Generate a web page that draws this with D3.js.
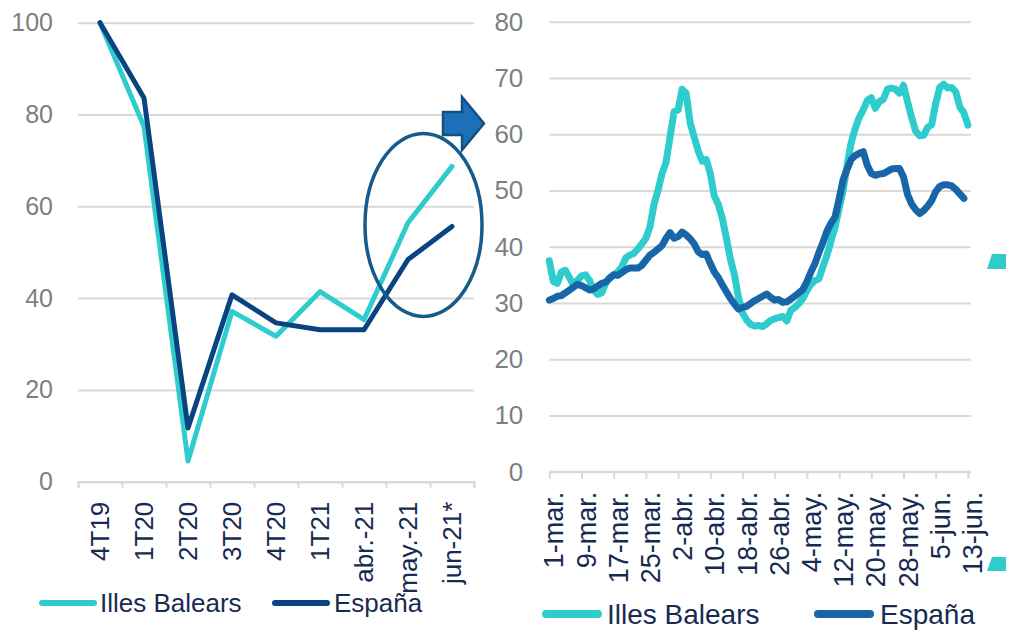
<!DOCTYPE html>
<html>
<head>
<meta charset="utf-8">
<script src="https://cdn.jsdelivr.net/npm/d3@7"></script>
<style>
  body { margin: 0; background: #fff; }
  svg { display: block; font-family: "Liberation Sans", Arial, sans-serif; }
</style>
</head>
<body>
<svg id="chart" width="1009" height="630"></svg>
<script>
// quarterly index, 4T19 = 100
const quarters = ['4T19', '1T20', '2T20', '3T20', '4T20', '1T21', 'abr.-21', 'may.-21', 'jun-21*'];
const balearsQuarterly = [100, 77.4, 4.5, 37.1, 31.7, 41.4, 35.3, 56.4, 68.7];
const espanaQuarterly = [100, 83.6, 11.7, 40.7, 34.6, 33.1, 33.1, 48.4, 55.6];
const quarterlyTicks = [0, 20, 40, 60, 80, 100];

// daily values starting 1-mar-2021
const dailyStart = new Date(2021, 2, 1);
const balearsDaily = [
  37.5, 33.8, 33.5, 35.5, 35.8, 34.5, 33.2, 34.0, 34.8, 35.0,
  34.0, 32.3, 31.5, 31.8, 33.5, 34.5, 35.0, 35.5, 36.4, 38.0,
  38.5, 38.8, 39.6, 40.5, 41.5, 43.5, 47.5, 50.0, 53.0, 55.0,
  59.5, 64.0, 64.3, 68.0, 67.3, 62.0, 59.5, 57.0, 55.2, 55.5,
  53.0, 49.0, 47.5, 45.0, 41.5, 37.8, 35.0, 31.0, 28.2, 27.0,
  26.2, 25.9, 26.0, 25.8, 26.3, 26.9, 27.2, 27.4, 27.6, 26.8,
  28.7, 29.2, 29.9, 30.8, 32.2, 33.3, 34.0, 34.3, 36.5, 38.5,
  41.0, 43.5, 46.8, 50.0, 54.5, 58.5, 61.0, 63.0, 64.3, 66.0,
  66.5, 64.6, 65.8, 66.2, 68.0, 68.2, 68.0, 67.3, 68.7, 65.8,
  63.0, 60.6, 59.7, 59.8, 61.2, 61.7, 65.5, 68.3, 68.9, 68.2,
  68.3, 67.5, 64.8, 63.8, 61.6
];
const espanaDaily = [
  30.5, 30.8, 31.2, 31.3, 31.8, 32.3, 32.8, 33.3, 33.1, 32.7,
  32.3, 32.5, 33.0, 33.5, 33.7, 34.4, 35.0, 34.9, 35.4, 35.9,
  36.2, 36.2, 36.2, 36.7, 37.6, 38.5, 39.0, 39.6, 40.2, 41.5,
  42.5, 41.5, 41.8, 42.6, 42.1, 41.4, 40.5, 39.1, 38.6, 38.7,
  37.0, 35.5, 34.5, 33.2, 32.0, 30.8, 29.8, 28.9, 29.2, 29.4,
  29.9, 30.4, 30.8, 31.2, 31.6, 31.0, 30.5, 30.6, 30.1, 30.2,
  30.7, 31.2, 31.8, 32.4, 33.8, 35.5, 37.0, 39.0, 40.8, 42.8,
  44.2, 45.3, 48.5, 51.9, 53.8, 55.5, 56.2, 56.6, 56.9, 54.5,
  53.0, 52.7, 52.9, 53.0, 53.4, 53.8, 53.9, 53.9, 52.4, 49.3,
  47.6, 46.6, 45.9, 46.4, 47.2, 48.2, 49.8, 50.7, 51.0, 51.0,
  50.8, 50.2, 49.4, 48.6
];
const dailyTicks = [0, 10, 20, 30, 40, 50, 60, 70, 80];
const dailyTickLabels = ['1-mar.', '9-mar.', '17-mar.', '25-mar.', '2-abr.', '10-abr.', '18-abr.',
  '26-abr.', '4-may.', '12-may.', '20-may.', '28-may.', '5-jun.', '13-jun.'];
const seriesNames = ['Illes Balears', 'España'];

const TEAL = '#2ecccc';
const NAVY = '#0a4480';
const BLUE = '#1866a8';
const TEXT = '#172a52';
const GREY = '#7f7f7f';
const GRID = '#d9d9d9';

const svg = d3.select('#chart');

// shared helper: horizontal gridlines + y labels
function drawYGrid(chart, yScale, ticks, width, padding) {
  const g = chart.append('g')
      .attr('class', 'axis y-axis')
      .call(d3.axisLeft(yScale).tickValues(ticks).tickSize(-width).tickPadding(padding));
  g.attr('font-family', null);
  g.select('.domain').remove();
  g.selectAll('line').attr('stroke', GRID).attr('stroke-width', 2);
  g.selectAll('text').attr('fill', GREY).attr('font-size', 25);
  return g;
}

class QuarterChart {
  constructor(_config) {
    this.config = {
      margin: _config.margin,
      width: _config.width,
      height: _config.height
    };
    this.initVis();
  }

  initVis() {
    let vis = this;
    const w = vis.config.width, h = vis.config.height;

    vis.chart = svg.append('g')
        .attr('transform', `translate(${vis.config.margin.left},${vis.config.margin.top})`);

    vis.xScale = d3.scaleBand().domain(quarters).range([0, w]);
    // edges of the bands, for the tick marks
    vis.xEdges = d3.scaleLinear().domain([0, quarters.length]).range([0, w]);
    vis.yScale = d3.scaleLinear().domain([0, 100]).range([h, 0]);

    drawYGrid(vis.chart, vis.yScale, quarterlyTicks, w, 25);

    // axis line with tick marks between categories
    const tickG = vis.chart.append('g')
        .attr('transform', `translate(0,${h})`)
        .call(d3.axisBottom(vis.xEdges).tickValues(d3.range(quarters.length + 1)).tickSize(6).tickFormat(''));
    tickG.selectAll('line, path').attr('stroke', GRID).attr('stroke-width', 2);

    // category labels, rotated
    const labelG = vis.chart.append('g')
        .attr('transform', `translate(0,${h})`)
        .call(d3.axisBottom(vis.xScale).tickSize(0));
    labelG.attr('font-family', null);
    labelG.select('.domain').remove();
    labelG.selectAll('text')
        .attr('transform', 'rotate(-90)')
        .attr('x', -20).attr('y', 0).attr('dy', '0.36em')
        .attr('text-anchor', 'end')
        .attr('font-size', 26)
        .attr('fill', TEXT);

    vis.line = d3.line()
        .x((d, i) => vis.xScale(quarters[i]) + vis.xScale.bandwidth() / 2)
        .y(d => vis.yScale(d));

    [[balearsQuarterly, TEAL], [espanaQuarterly, NAVY]].forEach(([data, color]) => {
      vis.chart.append('path')
          .datum(data)
          .attr('d', vis.line)
          .attr('fill', 'none')
          .attr('stroke', color)
          .attr('stroke-width', 5)
          .attr('stroke-linejoin', 'round')
          .attr('stroke-linecap', 'round');
    });
  }
}

class DailyChart {
  constructor(_config) {
    this.config = {
      margin: _config.margin,
      width: _config.width,
      height: _config.height
    };
    this.initVis();
  }

  initVis() {
    let vis = this;
    const w = vis.config.width, h = vis.config.height;

    vis.chart = svg.append('g')
        .attr('transform', `translate(${vis.config.margin.left},${vis.config.margin.top})`);

    const dayOf = i => d3.timeDay.offset(dailyStart, i);
    vis.xScale = d3.scaleTime().domain([dailyStart, dayOf(104)]).range([0, w]);
    vis.yScale = d3.scaleLinear().domain([0, 80]).range([h, 0]);

    const grid = drawYGrid(vis.chart, vis.yScale, dailyTicks, w + 3, 26);
    grid.selectAll('text').attr('font-size', 26);

    const tickDates = dailyTickLabels.map((d, i) => dayOf(i * 8));
    const xAxisG = vis.chart.append('g')
        .attr('transform', `translate(0,${h})`)
        .call(d3.axisBottom(vis.xScale).tickValues(tickDates).tickSize(7)
          .tickSizeOuter(0).tickFormat((d, i) => dailyTickLabels[i]));
    xAxisG.attr('font-family', null);
    xAxisG.select('.domain').attr('d', `M0,0H${w + 3}`);
    xAxisG.selectAll('line, path').attr('stroke', GRID).attr('stroke-width', 2);
    xAxisG.selectAll('text')
        .attr('transform', 'rotate(-90)')
        .attr('x', -20).attr('y', 0).attr('dy', '0.5em')
        .attr('text-anchor', 'end')
        .attr('font-size', 27)
        .attr('fill', TEXT);

    vis.line = d3.line()
        .x((d, i) => vis.xScale(dayOf(i)))
        .y(d => vis.yScale(d));

    [[balearsDaily, TEAL], [espanaDaily, BLUE]].forEach(([data, color]) => {
      vis.chart.append('path')
          .datum(data)
          .attr('d', vis.line)
          .attr('fill', 'none')
          .attr('stroke', color)
          .attr('stroke-width', 7)
          .attr('stroke-linejoin', 'round')
          .attr('stroke-linecap', 'round');
    });
  }
}

function drawLegend(items, y, size, stroke) {
  items.forEach(it => {
    svg.append('line')
        .attr('x1', it.x1).attr('x2', it.x2).attr('y1', y).attr('y2', y)
        .attr('stroke', it.color).attr('stroke-width', stroke).attr('stroke-linecap', 'round');
    svg.append('text')
        .attr('x', it.tx).attr('y', y).attr('dy', '0.35em')
        .attr('font-size', size).attr('fill', TEXT)
        .text(it.name);
  });
}

new QuarterChart({margin: {left: 78, top: 22.7}, width: 396, height: 459});
new DailyChart({margin: {left: 549.3, top: 21.7}, width: 418.6, height: 450});

drawLegend([
  {name: seriesNames[0], color: TEAL, x1: 42, x2: 94, tx: 100},
  {name: seriesNames[1], color: NAVY, x1: 275, x2: 327, tx: 334}
], 603, 26, 6);
drawLegend([
  {name: seriesNames[0], color: TEAL, x1: 546, x2: 598, tx: 607},
  {name: seriesNames[1], color: BLUE, x1: 818, x2: 870, tx: 880}
], 614, 28, 8);

// annotation: ellipse around the latest months and arrow to the daily panel
svg.append('ellipse')
    .attr('cx', 423.5).attr('cy', 225).attr('rx', 58.5).attr('ry', 91.5)
    .attr('fill', 'none').attr('stroke', '#175a8c').attr('stroke-width', 3.5);
svg.append('polygon')
    .attr('points', '443,112 462,112 462,97 484,123.5 462,150 462,135 443,135')
    .attr('fill', '#1c70b8').attr('stroke', '#13507f').attr('stroke-width', 2.5);

// teal marks cut off at the right edge
[[254, 269], [557, 571]].forEach(([t, b]) => {
  svg.append('polygon')
      .attr('points', `992,${t} 1006,${t} 1006,${b} 987,${b}`)
      .attr('fill', TEAL);
});
</script>
</body>
</html>
